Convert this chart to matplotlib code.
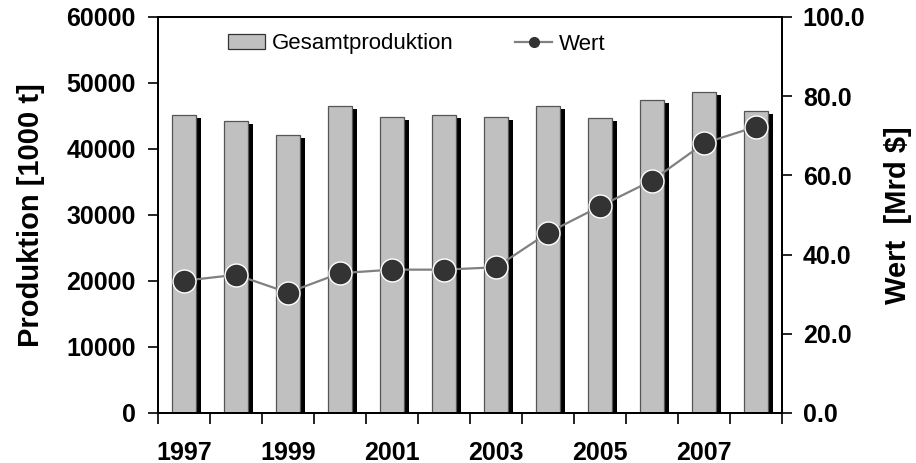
import matplotlib
matplotlib.use("Agg")
import matplotlib.pyplot as plt
import matplotlib.patheffects as pe
from matplotlib.patches import Patch
from matplotlib.lines import Line2D
from matplotlib.ticker import FixedLocator, FormatStrFormatter, NullFormatter

plt.rcParams['font.family'] = ['Liberation Sans', 'DejaVu Sans']

years = [1997, 1998, 1999, 2000, 2001, 2002, 2003, 2004, 2005, 2006, 2007, 2008]
produktion = [45200, 44200, 42100, 46500, 44900, 45200, 44900, 46500, 44700, 47400, 48600, 45800]
wert = [33.4, 34.9, 30.4, 35.3, 36.2, 36.2, 36.8, 45.5, 52.2, 58.7, 68.1, 72.3]
label_years = [1997, 1999, 2001, 2003, 2005, 2007]

TICK_FS = 18
LABEL_FS = 21

fig = plt.figure(figsize=(9.16, 4.63), dpi=100)
ax = fig.add_axes([158/916, 1-413/463, (782-158)/916, (413-17)/463])
x = list(range(len(years)))

bars = ax.bar(x, produktion, width=0.48, color='#C0C0C0', edgecolor='#555555',
              linewidth=0.9, zorder=2)
for b in bars:
    b.set_path_effects([pe.SimplePatchShadow(offset=(3.0, -2.2), shadow_rgbFace='black', alpha=1.0),
                        pe.Normal()])

ax.set_xlim(-0.5, len(years) - 0.5)
ax.set_ylim(0, 60000)
ax.set_yticks([0, 10000, 20000, 30000, 40000, 50000, 60000])
ax.yaxis.set_major_formatter(FormatStrFormatter('%d'))

ax.xaxis.set_major_locator(FixedLocator([i - 0.5 for i in range(len(years) + 1)]))
ax.xaxis.set_major_formatter(NullFormatter())
ax.xaxis.set_minor_locator(FixedLocator([years.index(y) for y in label_years]))
ax.set_xticklabels([str(y) for y in label_years], minor=True)
ax.tick_params(axis='x', which='major', direction='out', length=8, width=1.2)
ax.tick_params(axis='x', which='minor', length=0, pad=20, labelsize=TICK_FS)
ax.tick_params(axis='y', direction='out', length=7, width=1.2, pad=9, labelsize=TICK_FS)
for lab in ax.get_xticklabels(minor=True) + ax.get_yticklabels():
    lab.set_fontweight('bold')

ax.set_ylabel('Produktion [1000 t]', fontsize=LABEL_FS, fontweight='bold', labelpad=15)
for s in ax.spines.values():
    s.set_linewidth(1.4)

ax2 = ax.twinx()
ax2.plot(x, wert, color='#808080', linewidth=1.6, marker='o', markersize=16.5,
         markerfacecolor='#333333', markeredgecolor='white', markeredgewidth=1.0, zorder=3)
ax2.set_ylim(0, 100)
ax2.set_yticks([0, 20, 40, 60, 80, 100])
ax2.yaxis.set_major_formatter(FormatStrFormatter('%.1f'))
ax2.tick_params(axis='y', direction='out', length=7, width=1.2, pad=8, labelsize=TICK_FS)
for lab in ax2.get_yticklabels():
    lab.set_fontweight('bold')
ax2.set_ylabel('Wert  [Mrd $]', fontsize=LABEL_FS, fontweight='bold', labelpad=13)
for s in ax2.spines.values():
    s.set_linewidth(1.4)

handles = [Patch(facecolor='#C0C0C0', edgecolor='#333333', linewidth=0.9, label='Gesamtproduktion'),
           Line2D([0], [0], color='#808080', linewidth=1.6, marker='o', markersize=7,
                  markerfacecolor='#333333', markeredgecolor='#333333', label='Wert')]
ax2.legend(handles=handles, loc='center', bbox_to_anchor=(417/916, 1-44/463),
           bbox_transform=fig.transFigure, ncol=2, frameon=False, fontsize=16,
           handlelength=1.66, handleheight=0.63, handletextpad=0.31, columnspacing=2.75)

fig.savefig('out.png', dpi=100)
